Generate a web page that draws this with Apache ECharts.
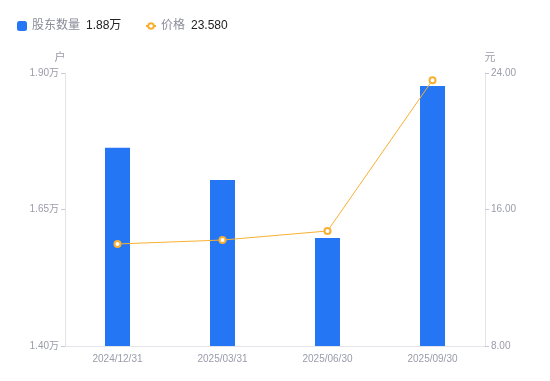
<!DOCTYPE html>
<html>
<head>
<meta charset="utf-8">
<script src="https://cdn.jsdelivr.net/npm/echarts@6/dist/echarts.min.js"></script>
<style>
  html, body { margin: 0; padding: 0; background: #fff; }
  #chart { width: 550px; height: 381px; }
</style>
</head>
<body>
<div id="chart"></div>
<script>
const dates = ['2024/12/31', '2025/03/31', '2025/06/30', '2025/09/30'];
// 股东数量, in 万户
const holders = [1.763, 1.704, 1.598, 1.876];
// 价格, in 元
const prices = [13.98, 14.21, 14.74, 23.58];
const leftTicks = [1.40, 1.90];
const rightTicks = [8, 24];

const myChart = echarts.init(document.getElementById('chart'));

const latest = {
    '股东数量': holders[holders.length - 1].toFixed(2) + '万',
    '价格': prices[prices.length - 1].toFixed(3)
};
const font = 'Liberation Sans, Noto Sans CJK SC, sans-serif';
const legendText = {
    fontFamily: font,
    rich: {
        n: { color: '#8a8c99', fontSize: 12, fontFamily: font, padding: [0, 6, 0, 0] },
        v: { color: '#222', fontSize: 12, fontFamily: font }
    }
};
const fmt = name => '{n|' + name + '}{v|' + latest[name] + '}';

const option = {
    animation: false,
    textStyle: { fontFamily: font },
    legend: [
        {
            left: 12,
            top: 15,
            itemWidth: 10,
            itemHeight: 10,
            formatter: fmt,
            textStyle: legendText,
            data: [{ name: '股东数量', icon: 'roundRect' }]
        },
        {
            left: 140,
            top: 15,
            itemWidth: 10,
            itemHeight: 7,
            formatter: fmt,
            textStyle: legendText,
            data: [{ name: '价格' }]
        }
    ],
    grid: { left: 65, right: 65, top: 73, bottom: 35 },
    xAxis: {
        type: 'category',
        data: dates,
        axisLine: { lineStyle: { color: '#e3e4ea' } },
        axisTick: { show: false },
        axisLabel: { color: '#9a9caa', fontSize: 10, margin: 8 }
    },
    yAxis: [
        {
            type: 'value',
            name: '户',
            nameGap: 10,
            nameTextStyle: { color: '#9a9caa', fontSize: 11, padding: [0, 0, 0, -10] },
            min: leftTicks[0],
            max: leftTicks[1],
            interval: 0.25,
            axisLine: { show: true, lineStyle: { color: '#e3e4ea' } },
            axisTick: { show: true, length: 4, lineStyle: { color: '#c8c9d2' } },
            splitLine: { show: false },
            axisLabel: { color: '#9a9caa', fontSize: 10, margin: 6, formatter: v => v.toFixed(2) + '万' }
        },
        {
            type: 'value',
            name: '元',
            nameGap: 10,
            nameTextStyle: { color: '#9a9caa', fontSize: 11, padding: [0, 0, 0, 10] },
            min: rightTicks[0],
            max: rightTicks[1],
            interval: 8,
            axisLine: { show: true, lineStyle: { color: '#e3e4ea' } },
            axisTick: { show: true, length: 4, lineStyle: { color: '#c8c9d2' } },
            splitLine: { show: false },
            axisLabel: { color: '#9a9caa', fontSize: 10, margin: 6, formatter: v => v.toFixed(2) }
        }
    ],
    series: [
        {
            name: '股东数量',
            type: 'bar',
            data: holders,
            barWidth: 25,
            itemStyle: { color: '#2576f5' }
        },
        {
            name: '价格',
            type: 'line',
            yAxisIndex: 1,
            data: prices,
            symbol: 'circle',
            symbolSize: 6,
            lineStyle: { color: '#f7b032', width: 1 },
            itemStyle: { color: '#fff', borderColor: '#f7b032', borderWidth: 2 }
        }
    ]
};

myChart.setOption(option);
</script>
</body>
</html>
